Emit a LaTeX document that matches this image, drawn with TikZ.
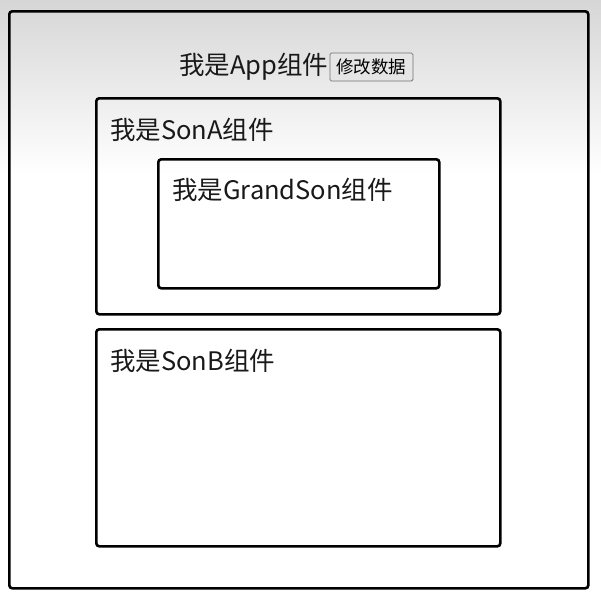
\documentclass[tikz,border=0pt]{standalone}
\usepackage{fontspec}
\setmainfont{Noto Sans CJK SC}
\usetikzlibrary{positioning}

\begin{document}
\begin{tikzpicture}[x=1pt, y=-1pt,
    box/.style={draw, line width=2.6pt, rounded corners=3pt, anchor=north west, inner sep=0pt},
    label/.style={anchor=west, inner sep=0pt, font=\fontsize{25.5}{28}\selectfont, text=black!90}]
    \useasboundingbox (0,0) rectangle (601,600);
    % grey fade at the top
    \shade[top color=black!16, bottom color=white] (0,0) rectangle (601,175);
    \node[box, minimum width=579pt, minimum height=577pt] (app) at (8,10) {};
    \node[box, minimum width=404pt, minimum height=216pt] (sona) at (95,97) {};
    \node[box, minimum width=281pt, minimum height=129pt] (grandson) at (157,158) {};
    \node[box, minimum width=404pt, minimum height=217pt] (sonb) at (95,328) {};
    \node[label] (apptext) at (179,67) {我是App组件};
    \node[draw=black!55, fill=black!10, rounded corners=1.5pt, line width=0.8pt,
          inner xsep=6.5pt, minimum height=28pt,
          font=\fontsize{17.5}{19}\selectfont, right=1pt of apptext] (btn) {修改数据};
    \node[label] (sonatext) at (110,130) {我是SonA组件};
    \node[label] (grandsontext) at (172,190) {我是GrandSon组件};
    \node[label] (sonbtext) at (110,361) {我是SonB组件};
\end{tikzpicture}
\end{document}
